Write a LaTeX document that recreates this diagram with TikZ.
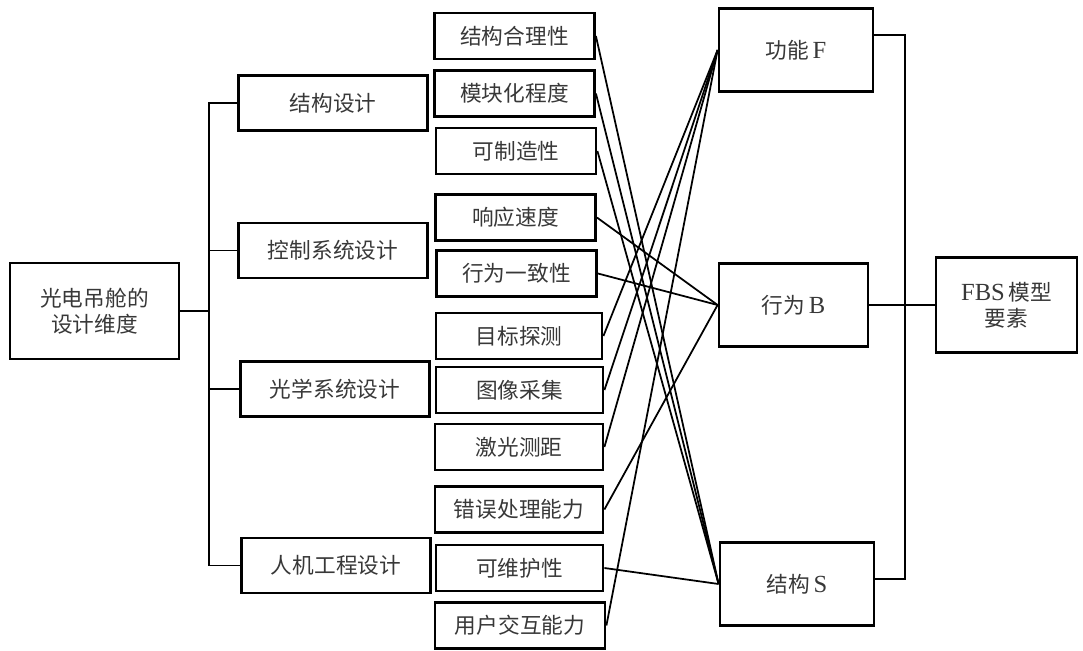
\documentclass[tikz,border=0pt]{standalone}
\usepackage{fontspec}
\setmainfont{Liberation Serif}
\newfontfamily\cjk{Noto Sans CJK SC}
\usepackage{tikz}
\usetikzlibrary{calc}

\newcommand{\fbsl}[1]{{\rmfamily\fontsize{21pt}{22pt}\selectfont #1}}

\tikzset{
	box/.style = {draw = black, line width = 2.4pt, inner sep = 0pt, align = center,
		text = black!78, font = \cjk\fontsize{18.5pt}{22pt}\selectfont},
	item/.style = {box, minimum width = 4.8cm, minimum height = 1.38cm},
	dimbox/.style = {box, minimum width = 5.67cm, minimum height = 1.65cm},
	fbsbox/.style = {box, minimum width = 4.62cm, minimum height = 2.5cm},
	link/.style = {draw = black, line width = 1.5pt},
}

\begin{document}
\begin{tikzpicture}[x = 0.03cm, y = -0.03cm]
	\useasboundingbox (0,0) rectangle (1083,651);

	% design dimensions
	\node[box, minimum width = 5.07cm, minimum height = 2.88cm] (root) at (94.5,311) {光电吊舱的\\设计维度};
	\node[dimbox] (jgsj) at (333,103) {结构设计};
	\node[dimbox] (kzsj) at (333,250.5) {控制系统设计};
	\node[dimbox] (gxsj) at (335,389) {光学系统设计};
	\node[dimbox] (rjsj) at (336,565.5) {人机工程设计};

	\coordinate (lj) at (209,311);
	\draw[link] (root.east) -- (root.east -| lj);
	\draw[link] (jgsj.west) -| (lj) |- (rjsj.west);
	\draw[link] (kzsj.west) -- (kzsj.west -| lj);
	\draw[link] (gxsj.west) -- (gxsj.west -| lj);

	% items
	\node[item] (jghl) at (514.5,36) {结构合理性};
	\node[item] (mkh) at (514.5,93.5) {模块化程度};
	\node[item] (kzz) at (516,151) {可制造性};
	\node[item] (xysd) at (515.5,217.5) {响应速度};
	\node[item] (xwyz) at (516.5,273.5) {行为一致性};
	\node[item, minimum width = 4.98cm] (mbtc) at (519,336) {目标探测};
	\node[item, minimum width = 5.01cm] (txcj) at (519.5,390) {图像采集};
	\node[item, minimum width = 5.04cm] (jgcj) at (519,447) {激光测距};
	\node[item, minimum width = 5.04cm] (cwcl) at (519,509.5) {错误处理能力};
	\node[item, minimum width = 5.01cm] (kwh) at (519.5,568) {可维护性};
	\node[item, minimum width = 5.1cm] (yhjh) at (520,625.5) {用户交互能力};

	% FBS elements
	\node[fbsbox] (gnF) at (796,50) {功能\,\fbsl{F}};
	\node[fbsbox, minimum width = 4.47cm] (xwB) at (793.5,305) {行为\,\fbsl{B}};
	\node[fbsbox] (jgS) at (797,584) {结构\,\fbsl{S}};
	\node[box, minimum width = 4.23cm, minimum height = 2.85cm] (fbs) at (1006.5,305) {\fbsl{FBS}\,模型\\要素};

	\draw[link] (jghl.east) -- (jgS.west);
	\draw[link] (mkh.east) -- (jgS.west);
	\draw[link] (kzz.east) -- (jgS.west);
	\draw[link] (kwh.east) -- (jgS.west);
	\draw[link] (xysd.east) -- (xwB.west);
	\draw[link] (xwyz.east) -- (xwB.west);
	\draw[link] (cwcl.east) -- (xwB.west);
	\draw[link] (mbtc.east) -- (gnF.west);
	\draw[link] (txcj.east) -- (gnF.west);
	\draw[link] (jgcj.east) -- (gnF.west);
	\draw[link] (yhjh.east) -- (gnF.west);

	\coordinate (rj) at (905,305);
	\draw[link] ([yshift = 0.45cm]gnF.east) -| (rj) |- ([yshift = 0.15cm]jgS.east);
	\draw[link] (xwB.east) -- (fbs.west);
\end{tikzpicture}
\end{document}
